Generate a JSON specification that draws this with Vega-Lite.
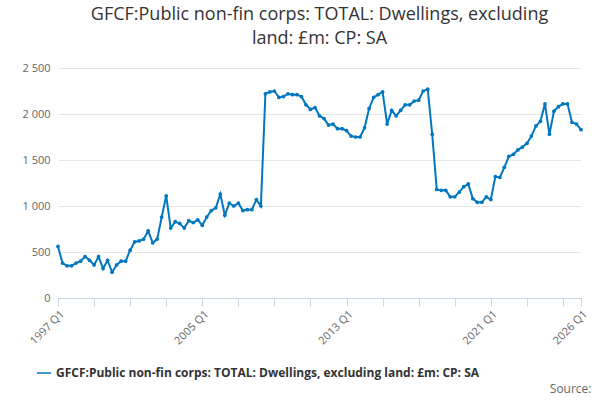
{
  "$schema": "https://vega.github.io/schema/vega-lite/v6.json",
  "width": 523,
  "height": 230,
  "padding": {"left": 21, "right": 15, "top": 6, "bottom": 0},
  "title": {
    "text": ["GFCF:Public non-fin corps: TOTAL: Dwellings, excluding", "land: £m: CP: SA"],
    "fontSize": 18,
    "font": "Open Sans",
    "fontWeight": "normal",
    "color": "#333333",
    "lineHeight": 24,
    "offset": 14
  },
  "data": {
    "values": [
      {"q": "1997 Q1", "v": 560}, {"q": "1997 Q2", "v": 380}, {"q": "1997 Q3", "v": 350}, {"q": "1997 Q4", "v": 350},
      {"q": "1998 Q1", "v": 380}, {"q": "1998 Q2", "v": 400}, {"q": "1998 Q3", "v": 450}, {"q": "1998 Q4", "v": 410},
      {"q": "1999 Q1", "v": 360}, {"q": "1999 Q2", "v": 450}, {"q": "1999 Q3", "v": 320}, {"q": "1999 Q4", "v": 410},
      {"q": "2000 Q1", "v": 280}, {"q": "2000 Q2", "v": 360}, {"q": "2000 Q3", "v": 400}, {"q": "2000 Q4", "v": 400},
      {"q": "2001 Q1", "v": 520}, {"q": "2001 Q2", "v": 610}, {"q": "2001 Q3", "v": 620}, {"q": "2001 Q4", "v": 640},
      {"q": "2002 Q1", "v": 730}, {"q": "2002 Q2", "v": 600}, {"q": "2002 Q3", "v": 640}, {"q": "2002 Q4", "v": 880},
      {"q": "2003 Q1", "v": 1110}, {"q": "2003 Q2", "v": 760}, {"q": "2003 Q3", "v": 830}, {"q": "2003 Q4", "v": 810},
      {"q": "2004 Q1", "v": 760}, {"q": "2004 Q2", "v": 840}, {"q": "2004 Q3", "v": 820}, {"q": "2004 Q4", "v": 850},
      {"q": "2005 Q1", "v": 790}, {"q": "2005 Q2", "v": 880}, {"q": "2005 Q3", "v": 950}, {"q": "2005 Q4", "v": 980},
      {"q": "2006 Q1", "v": 1130}, {"q": "2006 Q2", "v": 900}, {"q": "2006 Q3", "v": 1030}, {"q": "2006 Q4", "v": 1000},
      {"q": "2007 Q1", "v": 1030}, {"q": "2007 Q2", "v": 950}, {"q": "2007 Q3", "v": 960}, {"q": "2007 Q4", "v": 960},
      {"q": "2008 Q1", "v": 1070}, {"q": "2008 Q2", "v": 1000}, {"q": "2008 Q3", "v": 2220}, {"q": "2008 Q4", "v": 2240},
      {"q": "2009 Q1", "v": 2250}, {"q": "2009 Q2", "v": 2180}, {"q": "2009 Q3", "v": 2190}, {"q": "2009 Q4", "v": 2220},
      {"q": "2010 Q1", "v": 2210}, {"q": "2010 Q2", "v": 2210}, {"q": "2010 Q3", "v": 2190}, {"q": "2010 Q4", "v": 2100},
      {"q": "2011 Q1", "v": 2050}, {"q": "2011 Q2", "v": 2070}, {"q": "2011 Q3", "v": 1980}, {"q": "2011 Q4", "v": 1950},
      {"q": "2012 Q1", "v": 1880}, {"q": "2012 Q2", "v": 1890}, {"q": "2012 Q3", "v": 1840}, {"q": "2012 Q4", "v": 1840},
      {"q": "2013 Q1", "v": 1820}, {"q": "2013 Q2", "v": 1760}, {"q": "2013 Q3", "v": 1750}, {"q": "2013 Q4", "v": 1750},
      {"q": "2014 Q1", "v": 1850}, {"q": "2014 Q2", "v": 2060}, {"q": "2014 Q3", "v": 2180}, {"q": "2014 Q4", "v": 2210},
      {"q": "2015 Q1", "v": 2240}, {"q": "2015 Q2", "v": 1890}, {"q": "2015 Q3", "v": 2040}, {"q": "2015 Q4", "v": 1980},
      {"q": "2016 Q1", "v": 2040}, {"q": "2016 Q2", "v": 2100}, {"q": "2016 Q3", "v": 2100}, {"q": "2016 Q4", "v": 2140},
      {"q": "2017 Q1", "v": 2150}, {"q": "2017 Q2", "v": 2250}, {"q": "2017 Q3", "v": 2270}, {"q": "2017 Q4", "v": 1780},
      {"q": "2018 Q1", "v": 1180}, {"q": "2018 Q2", "v": 1170}, {"q": "2018 Q3", "v": 1170}, {"q": "2018 Q4", "v": 1100},
      {"q": "2019 Q1", "v": 1100}, {"q": "2019 Q2", "v": 1150}, {"q": "2019 Q3", "v": 1210}, {"q": "2019 Q4", "v": 1240},
      {"q": "2020 Q1", "v": 1080}, {"q": "2020 Q2", "v": 1040}, {"q": "2020 Q3", "v": 1040}, {"q": "2020 Q4", "v": 1100},
      {"q": "2021 Q1", "v": 1070}, {"q": "2021 Q2", "v": 1320}, {"q": "2021 Q3", "v": 1310}, {"q": "2021 Q4", "v": 1420},
      {"q": "2022 Q1", "v": 1540}, {"q": "2022 Q2", "v": 1560}, {"q": "2022 Q3", "v": 1610}, {"q": "2022 Q4", "v": 1640},
      {"q": "2023 Q1", "v": 1680}, {"q": "2023 Q2", "v": 1760}, {"q": "2023 Q3", "v": 1870}, {"q": "2023 Q4", "v": 1920},
      {"q": "2024 Q1", "v": 2110}, {"q": "2024 Q2", "v": 1780}, {"q": "2024 Q3", "v": 2030}, {"q": "2024 Q4", "v": 2080},
      {"q": "2025 Q1", "v": 2110}, {"q": "2025 Q2", "v": 2110}, {"q": "2025 Q3", "v": 1910}, {"q": "2025 Q4", "v": 1890},
      {"q": "2026 Q1", "v": 1830}
    ]
  },
  "mark": {"type": "line", "point": {"size": 14, "filled": true}, "strokeWidth": 2},
  "encoding": {
    "x": {
      "field": "q",
      "type": "ordinal",
      "sort": null,
      "scale": {"type": "point", "padding": 0},
      "axis": {
        "values": ["1997 Q1", "1999 Q1", "2001 Q1", "2003 Q1", "2005 Q1", "2007 Q1", "2009 Q1", "2011 Q1", "2013 Q1", "2015 Q1", "2017 Q1", "2019 Q1", "2021 Q1", "2023 Q1", "2025 Q1", "2026 Q1"],
        "labelExpr": "indexof(['1997 Q1','2005 Q1','2013 Q1','2021 Q1','2026 Q1'], datum.value) >= 0 ? datum.value : ''",
        "labelAngle": -45,
        "labelAlign": "right",
        "labelFontSize": 11,
        "labelColor": "#666666",
        "labelFont": "Open Sans",
        "domainColor": "#ccd6eb",
        "tickColor": "#ccd6eb",
        "tickSize": 8,
        "grid": false,
        "title": "Source:",
        "titleAnchor": "end",
        "titleFontWeight": "normal",
        "titleFont": "Open Sans",
        "titleFontSize": 12,
        "titleColor": "#666666",
        "titleX": 533,
        "titleY": 85
      }
    },
    "y": {
      "field": "v",
      "type": "quantitative",
      "scale": {"domain": [0, 2500]},
      "axis": {
        "values": [0, 500, 1000, 1500, 2000, 2500],
        "labelExpr": "replace(format(datum.value, ','), ',', ' ')",
        "title": null,
        "domain": false,
        "ticks": false,
        "gridColor": "#e6e6e6",
        "labelColor": "#666666",
        "labelFont": "Open Sans",
        "labelFontSize": 11,
        "labelPadding": 8
      }
    },
    "color": {
      "datum": "GFCF:Public non-fin corps: TOTAL: Dwellings, excluding land: £m: CP: SA",
      "type": "nominal",
      "scale": {"range": ["#0077c0"]},
      "legend": {
        "orient": "none",
        "legendX": -22,
        "legendY": 297,
        "title": null,
        "symbolType": "stroke",
        "symbolSize": 200,
        "labelFont": "Open Sans",
        "labelFontSize": 12,
        "labelFontWeight": "bold",
        "labelColor": "#333333",
        "labelLimit": 600
      }
    }
  },
  "config": {"view": {"stroke": null}}
}
